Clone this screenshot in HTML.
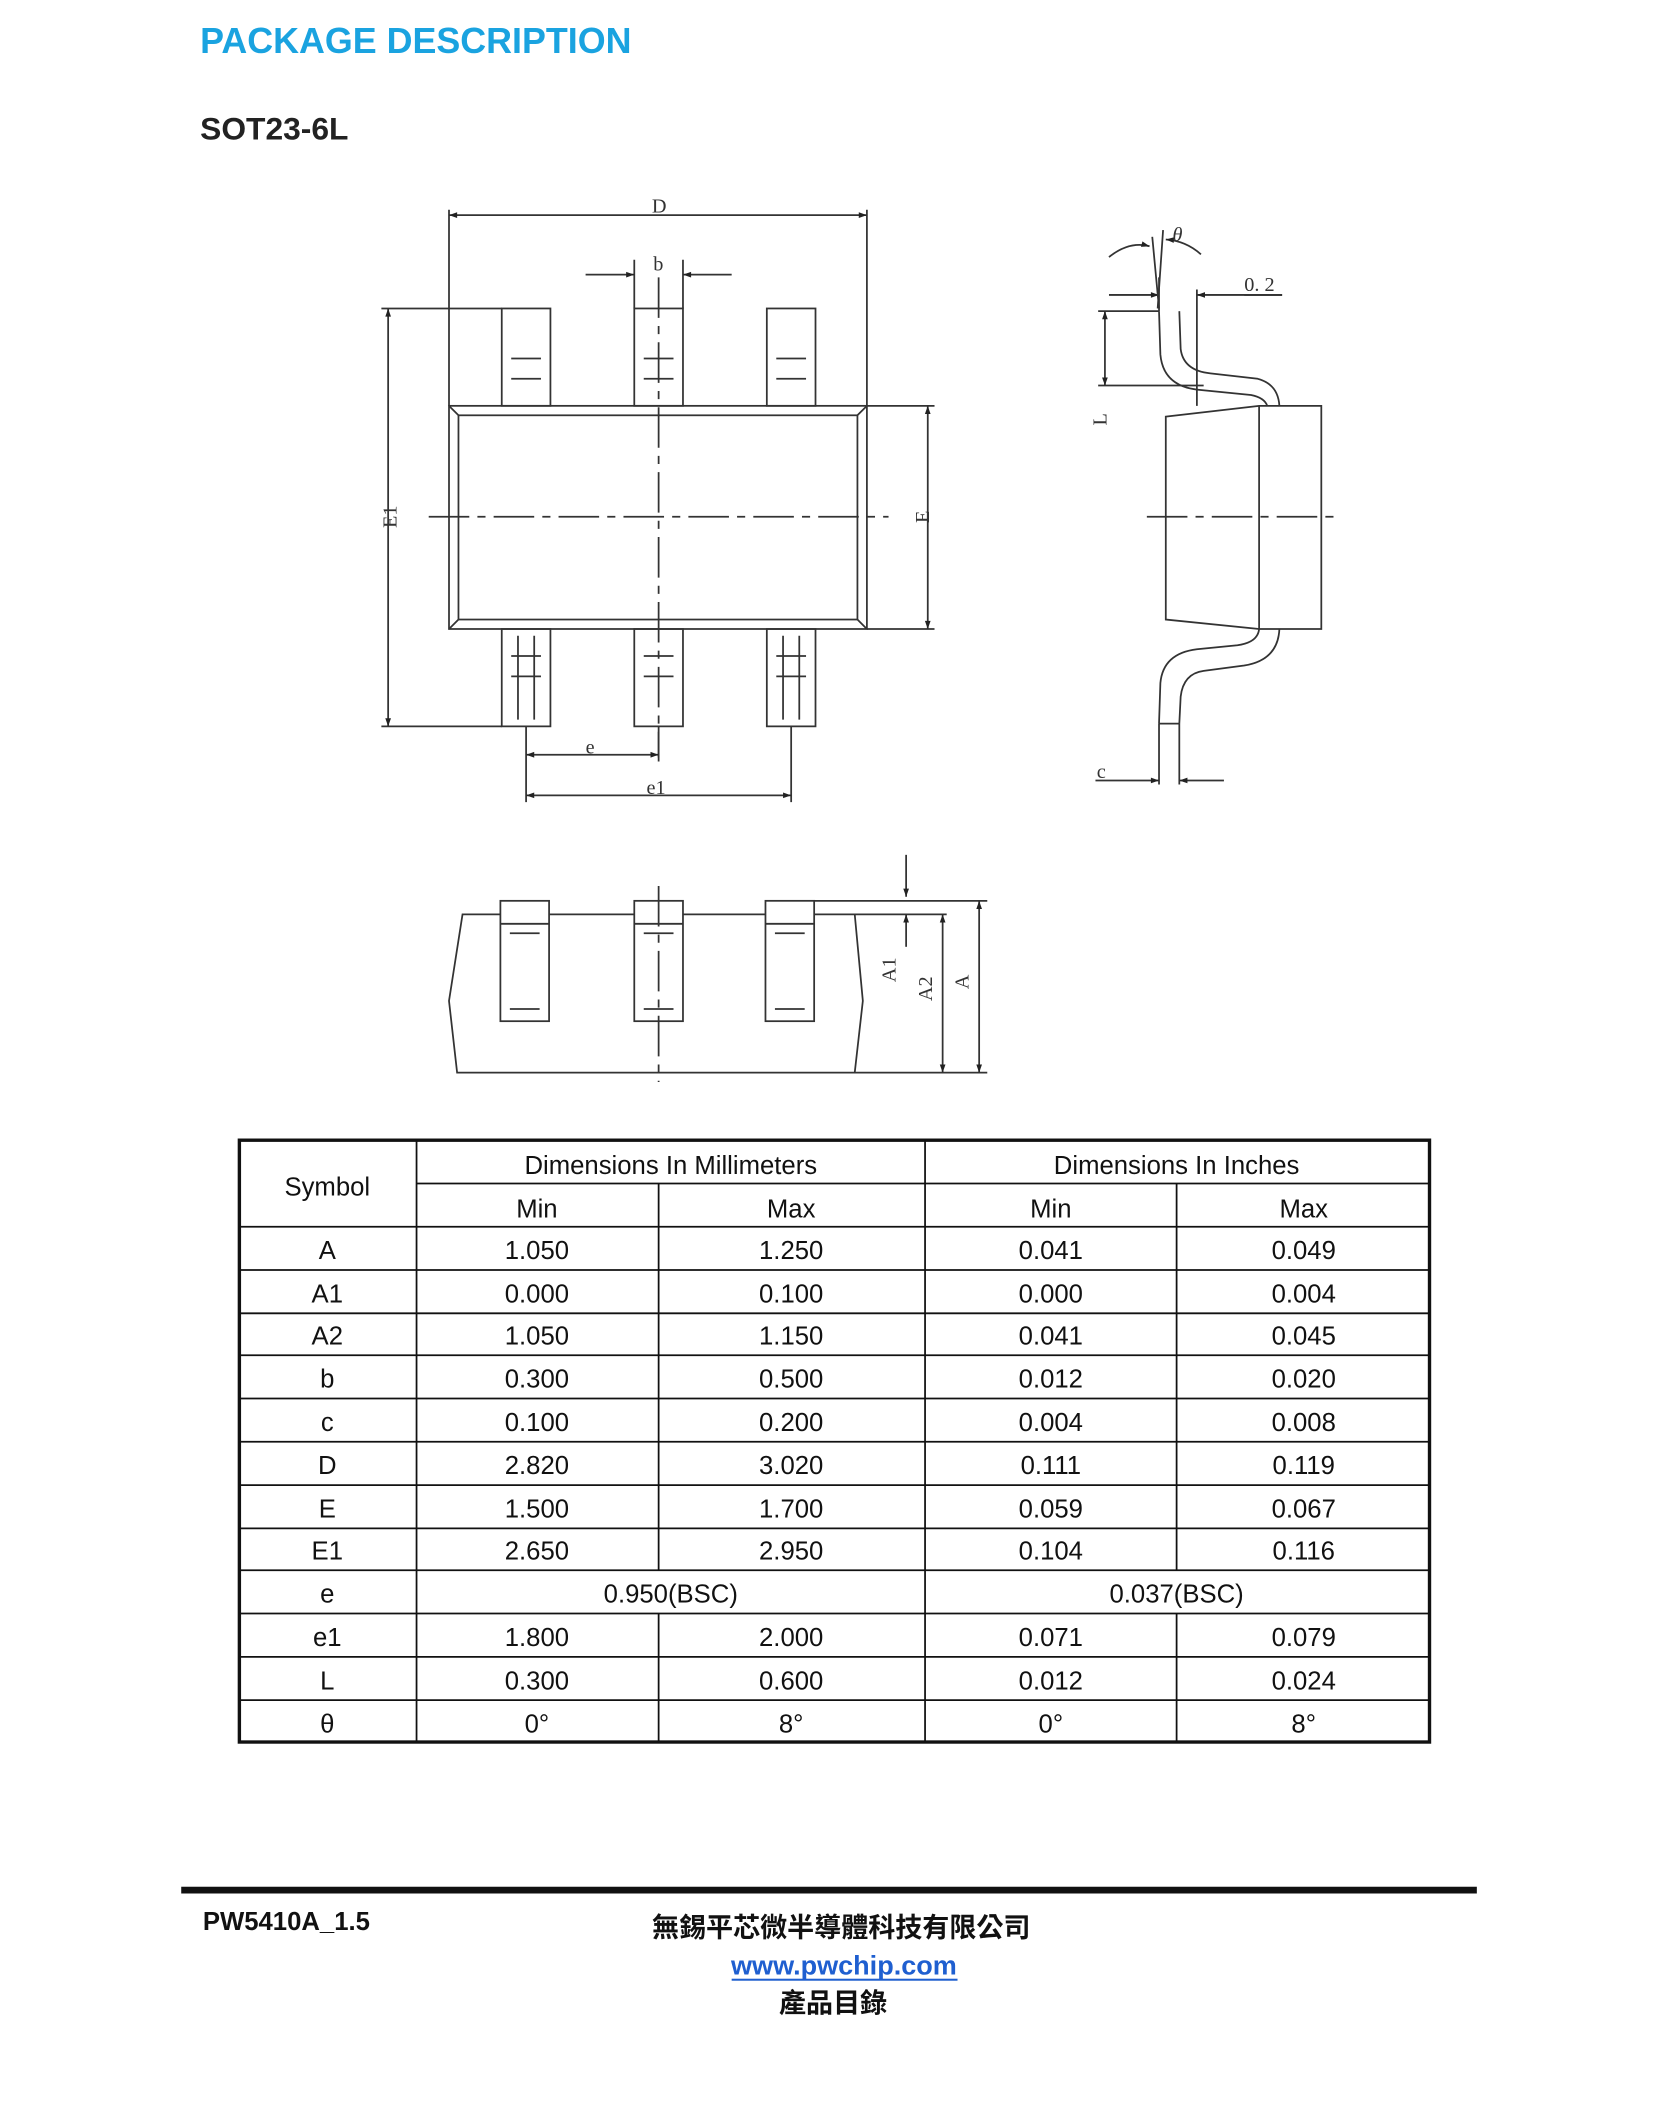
<!DOCTYPE html>
<html><head><meta charset="utf-8"><style>
html,body{margin:0;padding:0;background:#fff;}
svg{display:block;}
</style></head><body>
<svg width="1677" height="2110" viewBox="0 0 1240 1560" xmlns="http://www.w3.org/2000/svg">
<defs>
<marker id="ar" viewBox="0 0 10 10" refX="10" refY="5" markerWidth="10" markerHeight="6" orient="auto-start-reverse" markerUnits="userSpaceOnUse"><path d="M0,1.5 L10,5 L0,8.5z" fill="#222"/></marker>
</defs>
<rect width="1240" height="1560" fill="#fff"/>
<text x="148" y="39" font-family="Liberation Sans, sans-serif" font-size="26.5" font-weight="bold" fill="#1aa3e0">PACKAGE DESCRIPTION</text>
<text x="148" y="103" font-family="Liberation Sans, sans-serif" font-size="23.5" font-weight="bold" fill="#222">SOT23-6L</text>

<g stroke="#333" stroke-width="1.3" fill="none">
<rect x="332" y="300" width="309" height="165"/>
<rect x="339" y="307" width="295" height="151"/>
<path d="M332 300L339 307M641 300L634 307M332 465L339 458M641 465L634 458"/>
<rect x="371" y="228" width="36" height="72"/>
<rect x="469" y="228" width="36" height="72"/>
<rect x="567" y="228" width="36" height="72"/>
<rect x="371" y="465" width="36" height="72"/>
<rect x="469" y="465" width="36" height="72"/>
<rect x="567" y="465" width="36" height="72"/>
<path d="M378 265h22M378 280h22M476 265h22M476 280h22M574 265h22M574 280h22"/>
<path d="M378 485h22M378 500h22M476 485h22M476 500h22M574 485h22M574 500h22M383 470v62M395 470v62M579 470v62M591 470v62"/>
<path d="M317 382H657" stroke-dasharray="30,6,6,6"/>
<path d="M487 205V560" stroke-dasharray="30,6,6,6"/>
<path d="M332 155V300M641 155V300"/>
<path d="M332 159H641" marker-start="url(#ar)" marker-end="url(#ar)"/>
<path d="M469 192V228M505 192V228"/>
<path d="M433 203H469" marker-end="url(#ar)"/>
<path d="M541 203H505" marker-end="url(#ar)"/>
<path d="M282 228H371M282 537H371"/>
<path d="M287 228V537" marker-start="url(#ar)" marker-end="url(#ar)"/>
<path d="M641 300H691M641 465H691"/>
<path d="M686 300V465" marker-start="url(#ar)" marker-end="url(#ar)"/>
<path d="M389 537V593M585 537V593M487 537V563"/>
<path d="M389 558H487" marker-start="url(#ar)" marker-end="url(#ar)"/>
<path d="M389 588H585" marker-start="url(#ar)" marker-end="url(#ar)"/>

<path d="M862 308L931 300H977V465H931L862 458Z"/>
<path d="M931 300V465"/>
<path d="M848 382H990" stroke-dasharray="30,6,6,6"/>
<path d="M857 230L858 262Q860 285 885 288L925 292Q935 294 937 300"/>
<path d="M872 230L873 258Q875 274 895 276L930 280Q945 284 946 300"/>
<path d="M931 465Q930 475 915 477L885 480Q860 483 858 505L857 535"/>
<path d="M946 465Q945 488 920 492L890 496Q875 498 873 515L872 535"/>
<path d="M857 535H872"/>
<path d="M812 230H857M812 285H890"/>
<path d="M817 230V285" marker-start="url(#ar)" marker-end="url(#ar)"/>
<path d="M885 214V300M857 205V230"/>
<path d="M820 218H857" marker-end="url(#ar)"/>
<path d="M948 218H885" marker-end="url(#ar)"/>
<path d="M920 218H948"/>
<path d="M852 175L857 228M860 170L856 228"/>
<path d="M820 190Q835 178 850 182" marker-end="url(#ar)"/>
<path d="M888 188Q877 178 862 177" marker-end="url(#ar)"/>
<path d="M857 535V580M872 535V580"/>
<path d="M810 577H857" marker-end="url(#ar)"/>
<path d="M905 577H872" marker-end="url(#ar)"/>

<path d="M342 676H632L638 740L632 793H338L332 740Z"/>
<rect x="370" y="666" width="36" height="89" fill="#fff"/>
<rect x="469" y="666" width="36" height="89" fill="#fff"/>
<rect x="566" y="666" width="36" height="89" fill="#fff"/>
<path d="M370 683h36M469 683h36M566 683h36M377 690h22M476 690h22M573 690h22M377 746h22M476 746h22M573 746h22"/>
<path d="M487 655V800" stroke-dasharray="30,6,6,6"/>
<path d="M602 666H730M632 676H700M632 793H730"/>
<path d="M670 632V663" marker-end="url(#ar)"/>
<path d="M670 676V700" marker-start="url(#ar)"/>
<path d="M697 676V793" marker-start="url(#ar)" marker-end="url(#ar)"/>
<path d="M724 666V793" marker-start="url(#ar)" marker-end="url(#ar)"/>
</g>

<g font-family="Liberation Serif, serif" font-size="15" fill="#333">
<text x="482" y="157">D</text>
<text x="483" y="200">b</text>
<text x="433" y="557">e</text>
<text x="478" y="587">e1</text>
<text x="283" y="392" transform="rotate(-90 283 382)" text-anchor="middle">E1</text>
<text x="682" y="387" transform="rotate(-90 682 382)" text-anchor="middle">E</text>
<text x="814" y="314" transform="rotate(-90 814 310)" text-anchor="middle">L</text>
<text x="920" y="215">0. 2</text>
<text x="867" y="178" font-style="italic">θ</text>
<text x="811" y="575">c</text>
<text x="667" y="722" transform="rotate(-90 662 722)" text-anchor="middle">A1</text>
<text x="694" y="736" transform="rotate(-90 689 736)" text-anchor="middle">A2</text>
<text x="721" y="731" transform="rotate(-90 716 731)" text-anchor="middle">A</text>
</g>

<g stroke="#111" fill="none">
<rect x="177" y="843" width="880" height="445" stroke-width="2.5"/>
<g stroke-width="1.3">
<path d="M308 843V1288M684 843V1288"/>
<path d="M487 875V1161M870 875V1161M487 1193V1288M870 1193V1288"/>
<path d="M308 875H1057"/>
<path d="M177 907H1057M177 939H1057M177 971H1057M177 1002H1057M177 1034H1057M177 1066H1057M177 1098H1057M177 1130H1057M177 1161H1057M177 1193H1057M177 1225H1057M177 1257H1057"/>
</g></g>
<g font-family="Liberation Sans, sans-serif" font-size="19" fill="#111" text-anchor="middle">
<text x="242" y="884">Symbol</text>
<text x="496" y="868">Dimensions In Millimeters</text>
<text x="870" y="868">Dimensions In Inches</text>
<text x="397" y="900">Min</text><text x="585" y="900">Max</text><text x="777" y="900">Min</text><text x="964" y="900">Max</text>
<g>
<text x="242" y="931">A</text><text x="397" y="931">1.050</text><text x="585" y="931">1.250</text><text x="777" y="931">0.041</text><text x="964" y="931">0.049</text>
<text x="242" y="963">A1</text><text x="397" y="963">0.000</text><text x="585" y="963">0.100</text><text x="777" y="963">0.000</text><text x="964" y="963">0.004</text>
<text x="242" y="994">A2</text><text x="397" y="994">1.050</text><text x="585" y="994">1.150</text><text x="777" y="994">0.041</text><text x="964" y="994">0.045</text>
<text x="242" y="1026">b</text><text x="397" y="1026">0.300</text><text x="585" y="1026">0.500</text><text x="777" y="1026">0.012</text><text x="964" y="1026">0.020</text>
<text x="242" y="1058">c</text><text x="397" y="1058">0.100</text><text x="585" y="1058">0.200</text><text x="777" y="1058">0.004</text><text x="964" y="1058">0.008</text>
<text x="242" y="1090">D</text><text x="397" y="1090">2.820</text><text x="585" y="1090">3.020</text><text x="777" y="1090">0.111</text><text x="964" y="1090">0.119</text>
<text x="242" y="1122">E</text><text x="397" y="1122">1.500</text><text x="585" y="1122">1.700</text><text x="777" y="1122">0.059</text><text x="964" y="1122">0.067</text>
<text x="242" y="1153">E1</text><text x="397" y="1153">2.650</text><text x="585" y="1153">2.950</text><text x="777" y="1153">0.104</text><text x="964" y="1153">0.116</text>
<text x="242" y="1185">e</text><text x="496" y="1185">0.950(BSC)</text><text x="870" y="1185">0.037(BSC)</text>
<text x="242" y="1217">e1</text><text x="397" y="1217">1.800</text><text x="585" y="1217">2.000</text><text x="777" y="1217">0.071</text><text x="964" y="1217">0.079</text>
<text x="242" y="1249">L</text><text x="397" y="1249">0.300</text><text x="585" y="1249">0.600</text><text x="777" y="1249">0.012</text><text x="964" y="1249">0.024</text>
<text x="242" y="1281">θ</text><text x="397" y="1281">0°</text><text x="585" y="1281">8°</text><text x="777" y="1281">0°</text><text x="964" y="1281">8°</text>
</g></g>

<rect x="134" y="1395" width="958" height="5" fill="#111"/>
<text x="150" y="1427" font-family="Liberation Sans, sans-serif" font-size="19" font-weight="bold" fill="#111">PW5410A_1.5</text>
<text x="622" y="1432" text-anchor="middle" font-family="Liberation Sans, 'Noto Sans CJK TC', sans-serif" font-size="20" font-weight="bold" fill="#111">無錫平芯微半導體科技有限公司</text>
<text x="624" y="1460" text-anchor="middle" font-family="Liberation Sans, sans-serif" font-size="20" font-weight="bold" fill="#1f5fd0">www.pwchip.com</text>
<rect x="541" y="1463" width="167" height="1.5" fill="#1f5fd0"/>
<text x="616" y="1488" text-anchor="middle" font-family="Liberation Sans, 'Noto Sans CJK TC', sans-serif" font-size="20" font-weight="bold" fill="#111">產品目錄</text>
</svg>
</body></html>
